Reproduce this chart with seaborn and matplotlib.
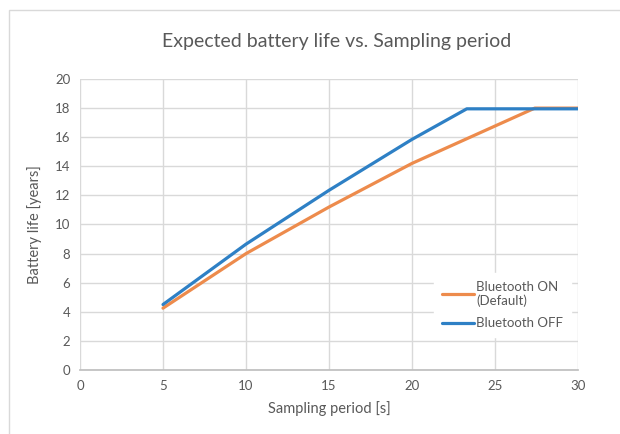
import seaborn as sns
import matplotlib.pyplot as plt
import pandas as pd
from matplotlib.patches import Rectangle

on_label = 'Bluetooth ON\n(Default)'
off_label = 'Bluetooth OFF'
on_period = [5, 10, 15, 20, 27.4, 30]
on_life = [4.25, 8.0, 11.2, 14.2, 18.0, 18.0]
off_period = [5, 10, 15, 20, 23.3, 30]
off_life = [4.5, 8.65, 12.35, 15.85, 17.95, 17.95]

df = pd.concat([
    pd.DataFrame({'period': on_period, 'life': on_life, 'mode': on_label}),
    pd.DataFrame({'period': off_period, 'life': off_life, 'mode': off_label}),
])

sns.set_theme(style='white')
plt.rcParams['font.family'] = ['Lato', 'DejaVu Sans']
txt = '#595959'
grid = '#D9D9D9'

fig = plt.figure(figsize=(6.2, 4.34), dpi=100)
# outer chart frame like excel
fig.patches.append(Rectangle((9 / 620, -0.1), 1.2, 1 - 10 / 434 + 0.1, transform=fig.transFigure,
                             fill=False, edgecolor=grid, linewidth=1))
ax = fig.add_axes([80 / 620, 1 - 370 / 434, 498 / 620, 291 / 434])

sns.lineplot(data=df, x='period', y='life', hue='mode', hue_order=[on_label, off_label],
             palette=['#ED8B4C', '#2E80C5'], linewidth=2.3, sort=False, estimator=None, ax=ax)

ax.set_xlim(0, 30)
ax.set_ylim(0, 20)
ax.set_xticks(range(0, 31, 5))
ax.set_yticks(range(0, 21, 2))
ax.grid(True, color=grid, linewidth=1)
ax.set_axisbelow(True)
for s in ['top', 'right', 'left']:
    ax.spines[s].set_visible(False)
ax.spines['bottom'].set_color('#BFBFBF')
ax.tick_params(axis='both', length=0, labelsize=9.5, colors=txt, pad=7)
ax.set_xlabel('Sampling period [s]', fontsize=10.5, color=txt, labelpad=7)
ax.set_ylabel('Battery life [years]', fontsize=10.5, color=txt, labelpad=9)
fig.text(337 / 620, 1 - 42 / 434, 'Expected battery life vs. Sampling period', fontsize=14,
         color=txt, ha='center', va='center')

leg = ax.legend(loc='lower right', bbox_to_anchor=(1.0, 0.09), frameon=True, fontsize=9.5,
                handlelength=2.4, handletextpad=0.2, labelspacing=0.75, borderpad=0.6)
leg.get_frame().set_facecolor('white')
leg.get_frame().set_edgecolor('white')
leg.get_frame().set_alpha(1)
for t in leg.get_texts():
    t.set_color(txt)

fig.savefig('out.png', dpi=100)
